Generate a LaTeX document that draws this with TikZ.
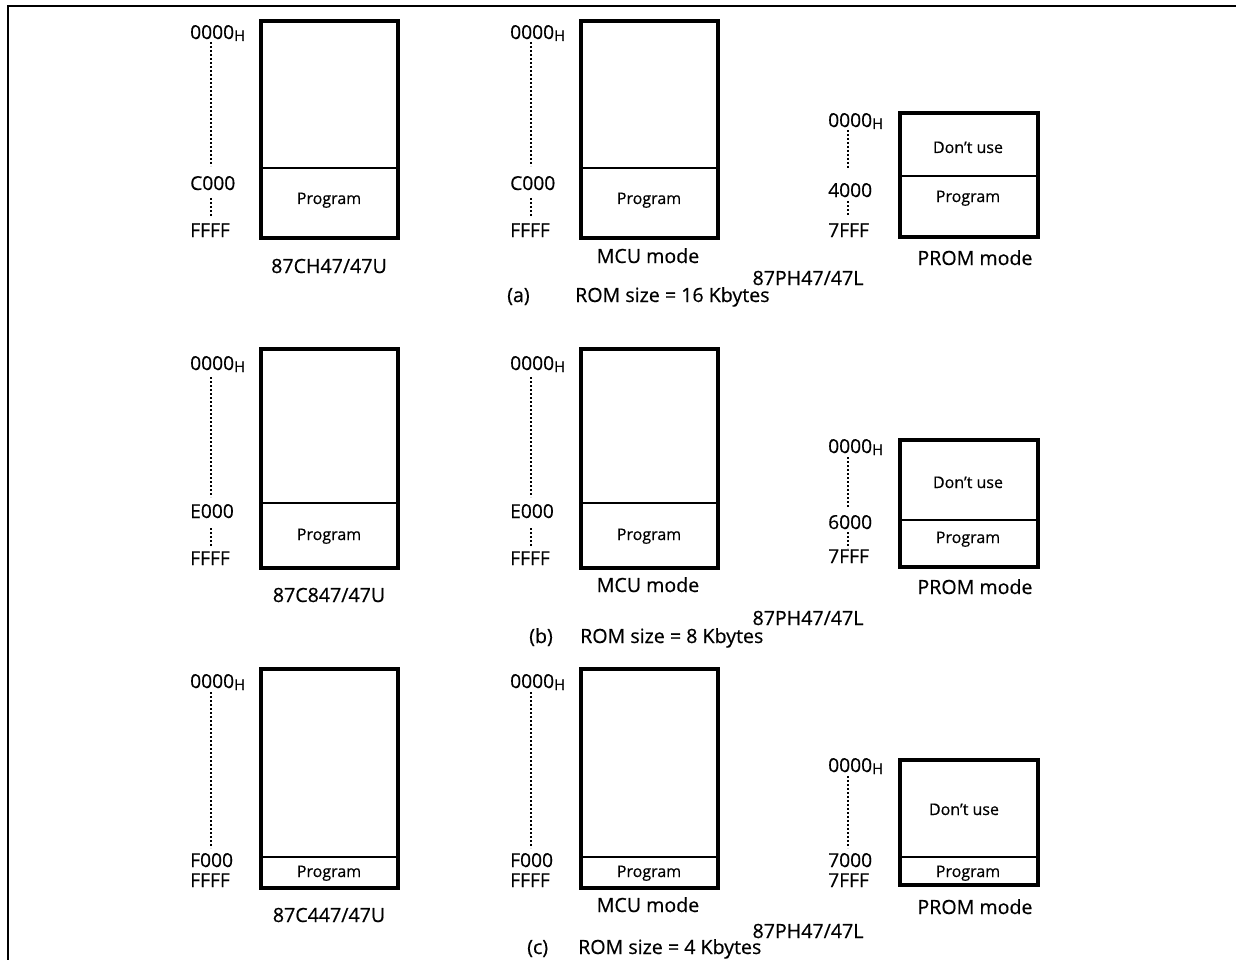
\documentclass[tikz,border=0pt]{standalone}
\usepackage{fontspec}
\setmainfont{Open Sans}[FakeBold=0.5]
\newcommand\hx{\raisebox{-2pt}{\fontsize{15}{15}\selectfont H}}
\tikzset{
  membox/.style={line width=3.8pt},
  divline/.style={line width=1.3pt},
  dotline/.style={line width=1.8pt, dash pattern=on 1.8pt off 2.2pt},
  outerframe/.style={line width=2pt},
  addr/.style={anchor=base west, inner sep=0pt, font=\fontsize{19.2}{20}\selectfont},
  captxt/.style={anchor=base, inner sep=0pt, font=\fontsize{19.6}{21}\selectfont},
  captw/.style={anchor=base west, inner sep=0pt, font=\fontsize{19.6}{21}\selectfont},
  prog/.style={anchor=base, inner sep=0pt, font=\fontsize{16}{18}\selectfont},
}
\begin{document}
\begin{tikzpicture}[x=1pt,y=-1pt]
\useasboundingbox (0,0) rectangle (1236,960);
% frame
\draw[outerframe] (8,960) -- (8,6) -- (1236,6);

% ================= (a) =================
% left
\draw[membox] (261,21) rectangle (398,238);
\draw[divline] (259,168) -- (400,168);
\node[addr] (aL0) at (190,39) {0000\hx};
\node[addr] (aL1) at (190,190) {C000};
\node[addr] (aL2) at (190,237) {FFFF};
\draw[dotline] (211,42) -- (211,166);
\draw[dotline] (211,198) -- (211,217);
\node[prog] (aLp) at (329,204) {Program};
\node[captxt] (aLn) at (329,273) {87CH47/47U};
% middle
\draw[membox] (581,21) rectangle (718,238);
\draw[divline] (579,168) -- (720,168);
\node[addr] (aM0) at (510,39) {0000\hx};
\node[addr] (aM1) at (510,190) {C000};
\node[addr] (aM2) at (510,237) {FFFF};
\draw[dotline] (531,42) -- (531,166);
\draw[dotline] (531,198) -- (531,217);
\node[prog] (aMp) at (649,204) {Program};
\node[captxt] (aMn) at (648,263) {MCU mode};
% prom
\draw[membox] (900,113) rectangle (1038,237);
\draw[divline] (898,176) -- (1040,176);
\node[addr] (aP0) at (828,127) {0000\hx};
\node[addr] (aP1) at (828,197) {4000};
\node[addr] (aP2) at (828,237) {7FFF};
\draw[dotline] (848,130) -- (848,168);
\draw[dotline] (848,201) -- (848,215);
\node[prog] (aPd) at (968,153) {Don’t use};
\node[prog] (aPp) at (968,202) {Program};
\node[captxt] (aPn) at (975,265) {PROM mode};
\node[captxt] (aPH) at (808,285) {87PH47/47L};
\node[captw] (aTa) at (507,302) {(a)};
\node[captw] (aT) at (575,302) {ROM size = 16 Kbytes};

% ================= (b) =================
\draw[membox] (261,349) rectangle (398,568);
\draw[divline] (259,503) -- (400,503);
\node[addr] (bL0) at (190,370) {0000\hx};
\node[addr] (bL1) at (190,518) {E000};
\node[addr] (bL2) at (190,565) {FFFF};
\draw[dotline] (211,377) -- (211,497);
\draw[dotline] (211,528) -- (211,547);
\node[prog] (bLp) at (329,540) {Program};
\node[captxt] (bLn) at (329,602) {87C847/47U};
\draw[membox] (581,349) rectangle (718,568);
\draw[divline] (579,503) -- (720,503);
\node[addr] (bM0) at (510,370) {0000\hx};
\node[addr] (bM1) at (510,518) {E000};
\node[addr] (bM2) at (510,565) {FFFF};
\draw[dotline] (531,377) -- (531,497);
\draw[dotline] (531,528) -- (531,547);
\node[prog] (bMp) at (649,540) {Program};
\node[captxt] (bMn) at (648,592) {MCU mode};
\draw[membox] (900,440) rectangle (1038,567);
\draw[divline] (898,520) -- (1040,520);
\node[addr] (bP0) at (828,453) {0000\hx};
\node[addr] (bP1) at (828,529) {6000};
\node[addr] (bP2) at (828,563) {7FFF};
\draw[dotline] (848,457) -- (848,507);
\draw[dotline] (848,532) -- (848,548);
\node[prog] (bPd) at (968,488) {Don’t use};
\node[prog] (bPp) at (968,543) {Program};
\node[captxt] (bPn) at (975,594) {PROM mode};
\node[captxt] (bPH) at (808,625) {87PH47/47L};
\node[captw] (bTb) at (529,643) {(b)};
\node[captw] (bT) at (580,643) {ROM size = 8 Kbytes};

% ================= (c) =================
\draw[membox] (261,669) rectangle (398,888);
\draw[divline] (259,857) -- (400,857);
\node[addr] (cL0) at (190,688) {0000\hx};
\node[addr] (cL1) at (190,867) {F000};
\node[addr] (cL2) at (190,887) {FFFF};
\draw[dotline] (211,692) -- (211,848);
\node[prog] (cLp) at (329,877) {Program};
\node[captxt] (cLn) at (329,922) {87C447/47U};
\draw[membox] (581,669) rectangle (718,888);
\draw[divline] (579,857) -- (720,857);
\node[addr] (cM0) at (510,688) {0000\hx};
\node[addr] (cM1) at (510,867) {F000};
\node[addr] (cM2) at (510,887) {FFFF};
\draw[dotline] (531,692) -- (531,848);
\node[prog] (cMp) at (649,877) {Program};
\node[captxt] (cMn) at (648,912) {MCU mode};
\draw[membox] (900,760) rectangle (1038,885);
\draw[divline] (898,857) -- (1040,857);
\node[addr] (cP0) at (828,772) {0000\hx};
\node[addr] (cP1) at (828,867) {7000};
\node[addr] (cP2) at (828,887) {7FFF};
\draw[dotline] (848,776) -- (848,848);
\node[prog] (cPd) at (964,815) {Don’t use};
\node[prog] (cPp) at (968,877) {Program};
\node[captxt] (cPn) at (975,914) {PROM mode};
\node[captxt] (cPH) at (808,938) {87PH47/47L};
\node[captw] (cTc) at (527,954) {(c)};
\node[captw] (cT) at (578,954) {ROM size = 4 Kbytes};
\end{tikzpicture}
\end{document}
